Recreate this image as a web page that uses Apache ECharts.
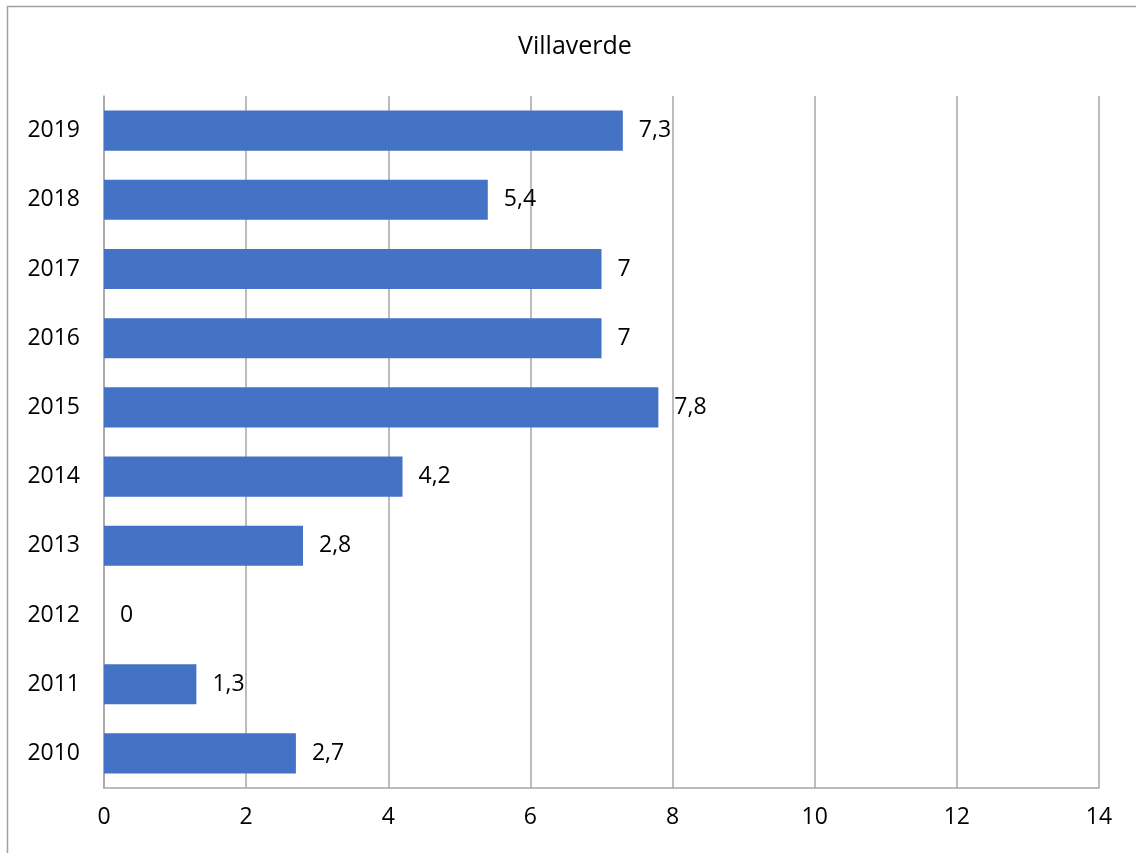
<!DOCTYPE html>
<html><head><meta charset="utf-8">
<script src="https://cdn.jsdelivr.net/npm/echarts@6/dist/echarts.min.js"></script>
<style>html,body{margin:0;padding:0;background:#fff}#c{width:1136px;height:853px}</style>
</head><body><div id="c"></div>
<script>
const titleText = "Villaverde";
const categories = ["2010","2011","2012","2013","2014","2015","2016","2017","2018","2019"];
const values = [2.7, 1.3, 0, 2.8, 4.2, 7.8, 7, 7, 5.4, 7.3];
const xTicks = [0, 2, 4, 6, 8, 10, 12, 14];

const FONT = "'Open Sans', 'Noto Sans', sans-serif";
const chart = echarts.init(document.getElementById('c'), null, {renderer: 'canvas'});
chart.setOption({
  animation: false,
  backgroundColor: '#fff',
  graphic: [{
    type: 'rect', shape: {x: 7.5, y: 6.5, width: 1200, height: 1000},
    style: {fill: 'none', stroke: '#a0a0a0', lineWidth: 1.5}, silent: true
  }, {
    type: 'text', x: 575, y: 47, silent: true,
    style: {text: titleText, font: "25px 'Open Sans', 'Noto Sans', sans-serif", fill: '#000',
      textAlign: 'center', textVerticalAlign: 'middle'}
  }],
  grid: {left: 104, top: 96, right: 37, bottom: 65, containLabel: false},
  xAxis: {
    type: 'value', min: xTicks[0], max: xTicks[xTicks.length-1], interval: 2,
    axisLine: {show: true, lineStyle: {color: '#a6a6a6', width: 1.5}},
    axisTick: {show: false},
    splitLine: {show: true, lineStyle: {color: '#a6a6a6', width: 1.5}},
    axisLabel: {fontFamily: FONT, fontSize: 23, color: '#000', margin: 18,
      formatter: v => String(v)}
  },
  yAxis: {
    type: 'category', data: categories,
    axisLine: {show: true, lineStyle: {color: '#a6a6a6', width: 1.5}},
    axisTick: {show: false},
    axisLabel: {fontFamily: FONT, fontSize: 23, color: '#000', margin: 24}
  },
  series: [{
    type: 'bar', data: values, barCategoryGap: '42%',
    itemStyle: {color: '#4472C4'},
    label: {show: true, position: 'right', distance: 16, fontFamily: FONT, fontSize: 23, color: '#000',
      formatter: p => String(p.value).replace('.', ',')}
  }]
});
</script></body></html>
